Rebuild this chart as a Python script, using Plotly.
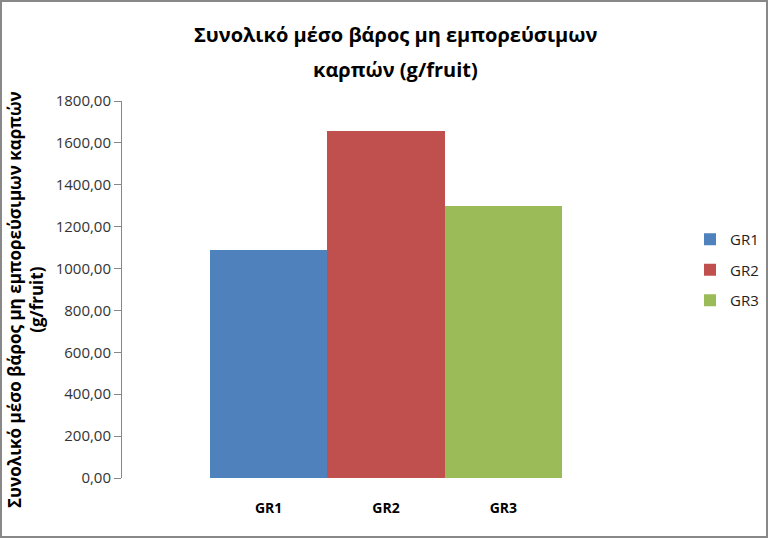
import plotly.graph_objects as go

# valores
grupos = ['GR1', 'GR2', 'GR3']
valores = [1088, 1655, 1297]
cores = ['#4F81BD', '#C0504D', '#9BBB59']
ticks_y = list(range(0, 2000, 200))
ticks_y_txt = [f'{v},00' for v in ticks_y]

titulo_1 = 'Συνολικό μέσο βάρος μη εμπορεύσιμων'
titulo_2 = 'καρπών (g/fruit)'
titulo_y = 'Συνολικό μέσο βάρος μη εμπορεύσιμων καρπών<br>(g/fruit)'

W, H = 768, 538
ml, mr, mt, mb = 122, 118, 101, 60
fonte = 'Open Sans, sans-serif'

fig = go.Figure()
for g, v, c in zip(grupos, valores, cores):
    fig.add_trace(go.Bar(x=[g], y=[v], name=g, marker_color=c,
                         marker_line_width=0, legendgroup=g))

pw = W - ml - mr
ph = H - mt - mb


def px_x(p):
    return (p - ml) / pw


def px_y(p):
    return 1 - (p - mt) / ph


# moldura da imagem
fig.add_shape(type='rect', xref='paper', yref='paper',
              x0=px_x(1), x1=px_x(W - 1), y0=px_y(H - 1), y1=px_y(1),
              line=dict(color='#888888', width=2), layer='below')

# título em duas linhas com espaçamento maior
for txt, yy in [(titulo_1, 34), (titulo_2, 69)]:
    fig.add_annotation(text='<b>' + txt + '</b>', xref='paper', yref='paper',
                       x=px_x(395), y=px_y(yy), showarrow=False,
                       xanchor='center', yanchor='middle',
                       font=dict(size=20, color='black'))

# título do eixo y
fig.add_annotation(text='<b>' + titulo_y + '</b>', xref='paper', yref='paper',
                   x=px_x(25), y=px_y(300), showarrow=False, textangle=-90,
                   xanchor='center', yanchor='middle',
                   font=dict(size=17, color='black'))

fig.update_layout(
    width=W, height=H,
    margin=dict(l=ml, r=mr, t=mt, b=mb, autoexpand=False),
    paper_bgcolor='white', plot_bgcolor='white',
    font=dict(family=fonte, color='#222222', size=12),
    barmode='overlay', bargap=0,
    showlegend=True,
    legend=dict(x=px_x(690), y=px_y(223), xanchor='left', yanchor='top',
                tracegroupgap=8, font=dict(size=15, color='#222222'),
                itemwidth=30),
    xaxis=dict(range=[-1.25, 3.25], showline=False, showgrid=False,
               automargin=False,
               ticks='outside', ticklen=17, tickcolor='rgba(0,0,0,0)',
               tickfont=dict(size=14, color='black'),
               tickvals=grupos, ticktext=['<b>' + g + '</b>' for g in grupos]),
    yaxis=dict(range=[0, 1800], tickvals=ticks_y, ticktext=ticks_y_txt,
               automargin=False,
               showline=True, linecolor='#888888', linewidth=1,
               ticks='outside', ticklen=7, tickcolor='#888888',
               showgrid=False, zeroline=False,
               tickfont=dict(size=15, color='#333333')),
)

fig.write_html('out.html', config={'displayModeBar': False},
               post_script="document.body.style.margin='0';")
